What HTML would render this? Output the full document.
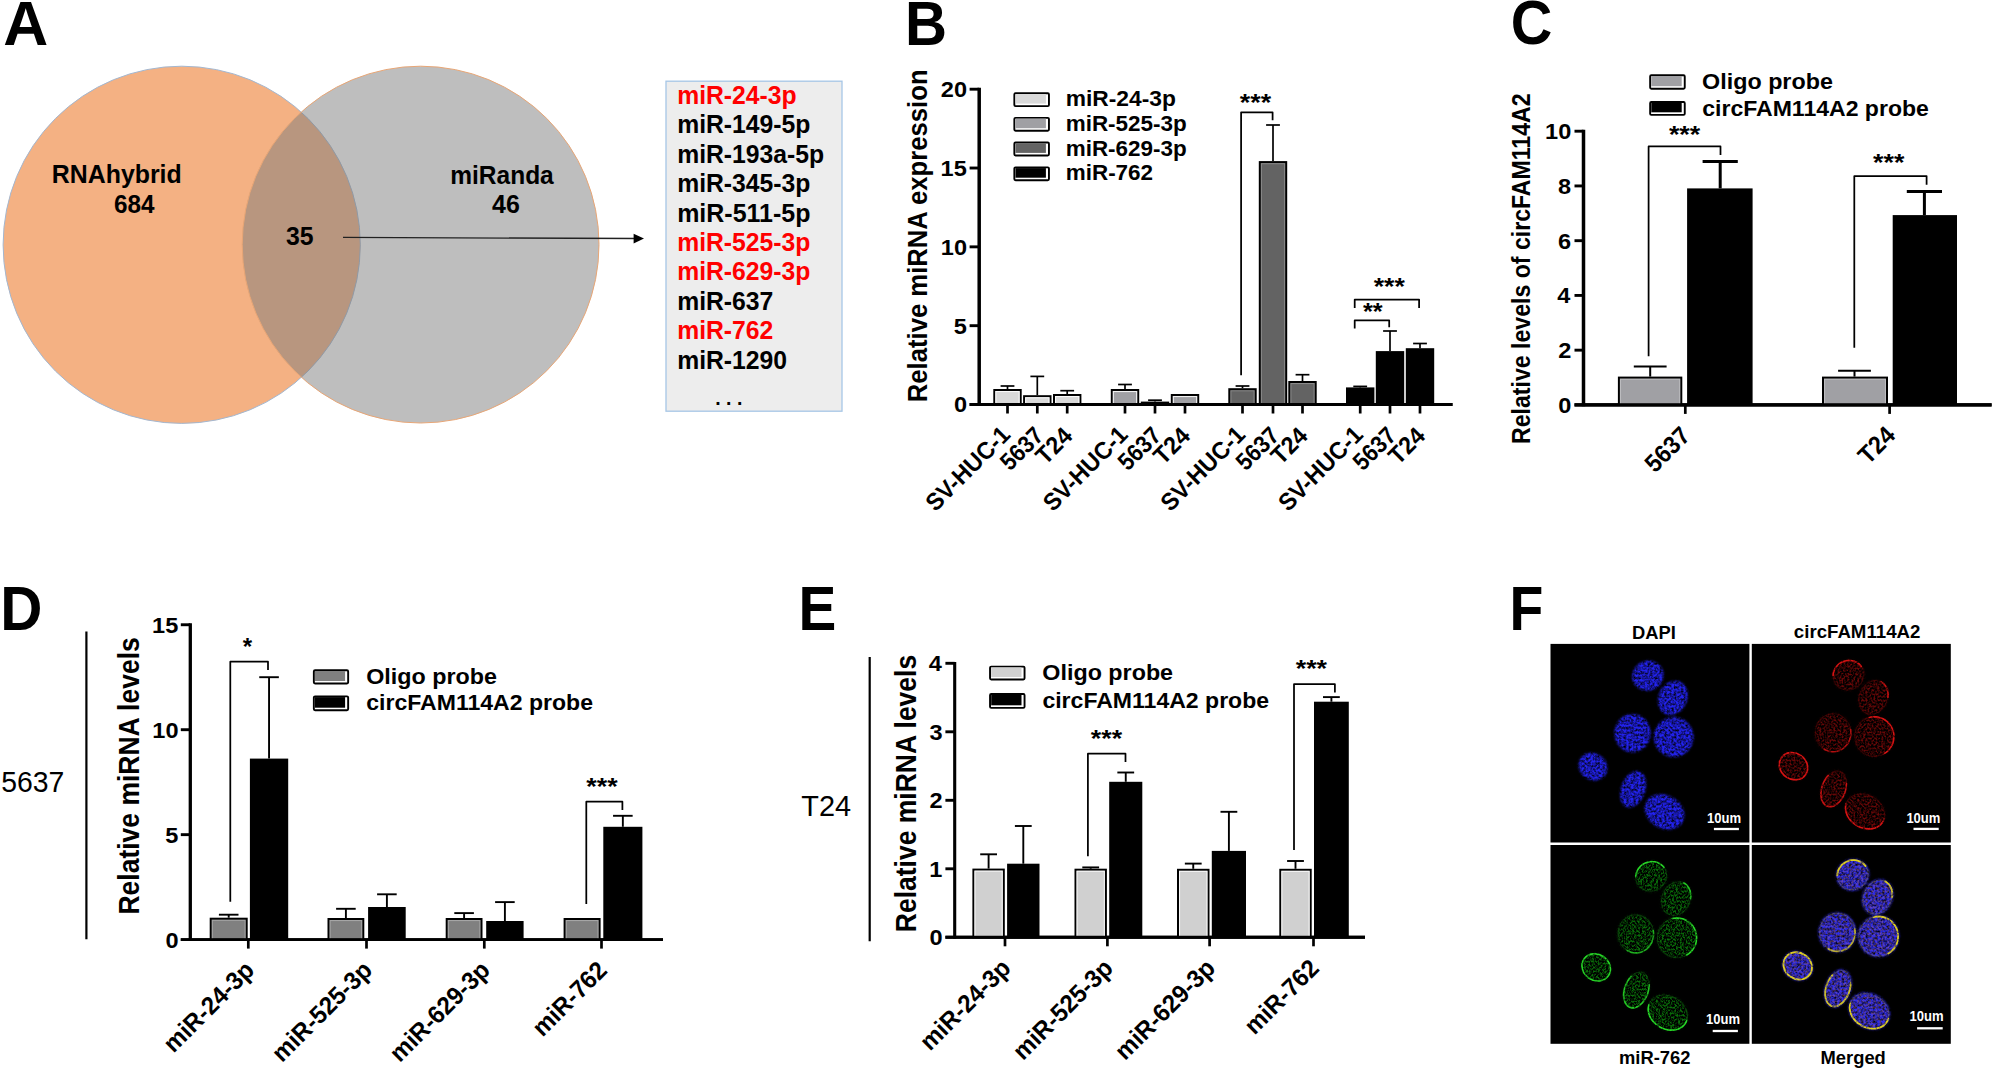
<!DOCTYPE html>
<html lang="en"><head><meta charset="utf-8"><title>Figure</title>
<style>html,body{margin:0;padding:0;background:#fff;}svg{display:block;}text{font-family:'Liberation Sans', Arial, sans-serif;}</style>
</head><body>
<svg width="1995" height="1070" viewBox="0 0 1995 1070">
<rect width="1995" height="1070" fill="#fff"/>
<text x="3.15" y="45.10" font-size="62.46" font-weight="bold" fill="#000" textLength="44.99" lengthAdjust="spacingAndGlyphs">A</text>
<text x="905.11" y="44.90" font-size="62.46" font-weight="bold" fill="#000" textLength="42.04" lengthAdjust="spacingAndGlyphs">B</text>
<text x="1510.64" y="44.00" font-size="62.46" font-weight="bold" fill="#000" textLength="41.53" lengthAdjust="spacingAndGlyphs">C</text>
<text x="0.20" y="629.50" font-size="62.46" font-weight="bold" fill="#000" textLength="42.16" lengthAdjust="spacingAndGlyphs">D</text>
<text x="798.51" y="629.70" font-size="62.46" font-weight="bold" fill="#000" textLength="37.81" lengthAdjust="spacingAndGlyphs">E</text>
<text x="1509.39" y="629.70" font-size="62.46" font-weight="bold" fill="#000" textLength="33.83" lengthAdjust="spacingAndGlyphs">F</text>
<g id="panelA">
<circle cx="181.7" cy="244.8" r="178.6" fill="#f4b183" stroke="#a3b7d0" stroke-width="1"/>
<circle cx="420.6" cy="244.6" r="178.4" fill="#7a7a7a" fill-opacity="0.49" stroke="#e8a676" stroke-width="1"/>
<text x="51.84" y="183.00" font-size="24.98" font-weight="bold" fill="#000" textLength="129.90" lengthAdjust="spacingAndGlyphs">RNAhybrid</text>
<text x="113.91" y="213.30" font-size="24.98" font-weight="bold" fill="#000" textLength="40.52" lengthAdjust="spacingAndGlyphs">684</text>
<text x="285.93" y="244.80" font-size="24.98" font-weight="bold" fill="#000" textLength="27.56" lengthAdjust="spacingAndGlyphs">35</text>
<text x="450.29" y="183.60" font-size="24.98" font-weight="bold" fill="#000" textLength="103.46" lengthAdjust="spacingAndGlyphs">miRanda</text>
<text x="492.12" y="212.50" font-size="24.98" font-weight="bold" fill="#000" textLength="27.78" lengthAdjust="spacingAndGlyphs">46</text>
<line x1="343.00" y1="237.40" x2="636.00" y2="238.50" stroke="#222" stroke-width="1.3" stroke-linecap="butt"/>
<polygon points="644,238.6 633.6,233.7 633.6,243.5" fill="#000"/>
<rect x="666" y="81.2" width="176" height="330" fill="#ededed" stroke="#a6c6e6" stroke-width="1.3"/>
<text x="677.17" y="104.00" font-size="24.98" font-weight="bold" fill="#ff0000" textLength="119.51" lengthAdjust="spacingAndGlyphs">miR-24-3p</text>
<text x="677.17" y="133.40" font-size="24.98" font-weight="bold" fill="#000" textLength="133.26" lengthAdjust="spacingAndGlyphs">miR-149-5p</text>
<text x="677.17" y="162.80" font-size="24.98" font-weight="bold" fill="#000" textLength="147.00" lengthAdjust="spacingAndGlyphs">miR-193a-5p</text>
<text x="677.17" y="192.20" font-size="24.98" font-weight="bold" fill="#000" textLength="133.26" lengthAdjust="spacingAndGlyphs">miR-345-3p</text>
<text x="677.17" y="221.60" font-size="24.98" font-weight="bold" fill="#000" textLength="133.26" lengthAdjust="spacingAndGlyphs">miR-511-5p</text>
<text x="677.17" y="251.00" font-size="24.98" font-weight="bold" fill="#ff0000" textLength="133.26" lengthAdjust="spacingAndGlyphs">miR-525-3p</text>
<text x="677.17" y="280.40" font-size="24.98" font-weight="bold" fill="#ff0000" textLength="133.26" lengthAdjust="spacingAndGlyphs">miR-629-3p</text>
<text x="677.17" y="309.80" font-size="24.98" font-weight="bold" fill="#000" textLength="96.18" lengthAdjust="spacingAndGlyphs">miR-637</text>
<text x="677.17" y="339.20" font-size="24.98" font-weight="bold" fill="#ff0000" textLength="96.18" lengthAdjust="spacingAndGlyphs">miR-762</text>
<text x="677.17" y="368.60" font-size="24.98" font-weight="bold" fill="#000" textLength="109.92" lengthAdjust="spacingAndGlyphs">miR-1290</text>
<text x="715.28" y="404.80" font-size="20.82" font-weight="bold" fill="#000" textLength="27.06" lengthAdjust="spacingAndGlyphs">. . .</text>
</g>
<g id="panelB">
<line x1="979.20" y1="87.80" x2="979.20" y2="405.90" stroke="#000" stroke-width="3.5" stroke-linecap="butt"/>
<line x1="969.60" y1="404.50" x2="1452.50" y2="404.50" stroke="#000" stroke-width="3.0" stroke-linecap="butt"/>
<line x1="969.60" y1="325.68" x2="979.20" y2="325.68" stroke="#000" stroke-width="2.9" stroke-linecap="butt"/>
<line x1="969.60" y1="246.85" x2="979.20" y2="246.85" stroke="#000" stroke-width="2.9" stroke-linecap="butt"/>
<line x1="969.60" y1="168.02" x2="979.20" y2="168.02" stroke="#000" stroke-width="2.9" stroke-linecap="butt"/>
<line x1="969.60" y1="89.20" x2="979.20" y2="89.20" stroke="#000" stroke-width="2.9" stroke-linecap="butt"/>
<text x="953.97" y="412.40" font-size="22.90" font-weight="bold" fill="#000" textLength="13.09" lengthAdjust="spacingAndGlyphs">0</text>
<text x="953.66" y="333.57" font-size="22.90" font-weight="bold" fill="#000" textLength="13.09" lengthAdjust="spacingAndGlyphs">5</text>
<text x="940.88" y="254.75" font-size="22.90" font-weight="bold" fill="#000" textLength="26.18" lengthAdjust="spacingAndGlyphs">10</text>
<text x="940.57" y="175.92" font-size="22.90" font-weight="bold" fill="#000" textLength="26.18" lengthAdjust="spacingAndGlyphs">15</text>
<text x="940.88" y="97.10" font-size="22.90" font-weight="bold" fill="#000" textLength="26.18" lengthAdjust="spacingAndGlyphs">20</text>
<text transform="translate(927.40,402.21) rotate(-90)" x="0" y="0" font-size="28.42" font-weight="bold" textLength="332.80" lengthAdjust="spacingAndGlyphs">Relative miRNA expression</text>
<line x1="1007.50" y1="389.00" x2="1007.50" y2="386.00" stroke="#000" stroke-width="1.7" stroke-linecap="butt"/>
<line x1="1000.60" y1="386.00" x2="1014.40" y2="386.00" stroke="#000" stroke-width="1.7" stroke-linecap="butt"/>
<rect x="994.30" y="390.00" width="26.40" height="14.50" fill="#d9d9d9" stroke="#000" stroke-width="2.0"/>
<rect x="995.85" y="391.55" width="23.30" height="12.95" fill="none" stroke="#fff" stroke-width="1.1" stroke-opacity="0.85"/>
<line x1="1007.50" y1="404.50" x2="1007.50" y2="413.50" stroke="#000" stroke-width="2.7" stroke-linecap="butt"/>
<line x1="1037.30" y1="395.20" x2="1037.30" y2="376.40" stroke="#000" stroke-width="1.7" stroke-linecap="butt"/>
<line x1="1030.40" y1="376.40" x2="1044.20" y2="376.40" stroke="#000" stroke-width="1.7" stroke-linecap="butt"/>
<rect x="1024.10" y="396.20" width="26.40" height="8.30" fill="#d9d9d9" stroke="#000" stroke-width="2.0"/>
<rect x="1025.65" y="397.75" width="23.30" height="6.75" fill="none" stroke="#fff" stroke-width="1.1" stroke-opacity="0.85"/>
<line x1="1037.30" y1="404.50" x2="1037.30" y2="413.50" stroke="#000" stroke-width="2.7" stroke-linecap="butt"/>
<line x1="1067.20" y1="394.00" x2="1067.20" y2="390.70" stroke="#000" stroke-width="1.7" stroke-linecap="butt"/>
<line x1="1060.30" y1="390.70" x2="1074.10" y2="390.70" stroke="#000" stroke-width="1.7" stroke-linecap="butt"/>
<rect x="1054.00" y="395.00" width="26.40" height="9.50" fill="#d9d9d9" stroke="#000" stroke-width="2.0"/>
<rect x="1055.55" y="396.55" width="23.30" height="7.95" fill="none" stroke="#fff" stroke-width="1.1" stroke-opacity="0.85"/>
<line x1="1067.20" y1="404.50" x2="1067.20" y2="413.50" stroke="#000" stroke-width="2.7" stroke-linecap="butt"/>
<line x1="1125.00" y1="389.00" x2="1125.00" y2="384.50" stroke="#000" stroke-width="1.7" stroke-linecap="butt"/>
<line x1="1118.10" y1="384.50" x2="1131.90" y2="384.50" stroke="#000" stroke-width="1.7" stroke-linecap="butt"/>
<rect x="1111.80" y="390.00" width="26.40" height="14.50" fill="#a0a0a4" stroke="#000" stroke-width="2.0"/>
<rect x="1113.35" y="391.55" width="23.30" height="12.95" fill="none" stroke="#fff" stroke-width="1.1" stroke-opacity="0.85"/>
<line x1="1125.00" y1="404.50" x2="1125.00" y2="413.50" stroke="#000" stroke-width="2.7" stroke-linecap="butt"/>
<line x1="1155.00" y1="401.60" x2="1155.00" y2="400.20" stroke="#000" stroke-width="1.7" stroke-linecap="butt"/>
<line x1="1148.10" y1="400.20" x2="1161.90" y2="400.20" stroke="#000" stroke-width="1.7" stroke-linecap="butt"/>
<rect x="1141.80" y="402.60" width="26.40" height="1.90" fill="#a0a0a4" stroke="#000" stroke-width="2.0"/>
<line x1="1155.00" y1="404.50" x2="1155.00" y2="413.50" stroke="#000" stroke-width="2.7" stroke-linecap="butt"/>
<rect x="1171.80" y="395.00" width="26.40" height="9.50" fill="#a0a0a4" stroke="#000" stroke-width="2.0"/>
<rect x="1173.35" y="396.55" width="23.30" height="7.95" fill="none" stroke="#fff" stroke-width="1.1" stroke-opacity="0.85"/>
<line x1="1185.00" y1="404.50" x2="1185.00" y2="413.50" stroke="#000" stroke-width="2.7" stroke-linecap="butt"/>
<line x1="1242.50" y1="388.20" x2="1242.50" y2="386.00" stroke="#000" stroke-width="1.7" stroke-linecap="butt"/>
<line x1="1235.60" y1="386.00" x2="1249.40" y2="386.00" stroke="#000" stroke-width="1.7" stroke-linecap="butt"/>
<rect x="1229.30" y="389.20" width="26.40" height="15.30" fill="#636363" stroke="#000" stroke-width="2.0"/>
<rect x="1230.85" y="390.75" width="23.30" height="13.75" fill="none" stroke="#fff" stroke-width="1.1" stroke-opacity="0.25"/>
<line x1="1242.50" y1="404.50" x2="1242.50" y2="413.50" stroke="#000" stroke-width="2.7" stroke-linecap="butt"/>
<line x1="1273.00" y1="161.10" x2="1273.00" y2="125.00" stroke="#000" stroke-width="1.7" stroke-linecap="butt"/>
<line x1="1266.10" y1="125.00" x2="1279.90" y2="125.00" stroke="#000" stroke-width="1.7" stroke-linecap="butt"/>
<rect x="1259.80" y="162.10" width="26.40" height="242.40" fill="#636363" stroke="#000" stroke-width="2.0"/>
<rect x="1261.35" y="163.65" width="23.30" height="240.85" fill="none" stroke="#fff" stroke-width="1.1" stroke-opacity="0.25"/>
<line x1="1273.00" y1="404.50" x2="1273.00" y2="413.50" stroke="#000" stroke-width="2.7" stroke-linecap="butt"/>
<line x1="1302.50" y1="381.00" x2="1302.50" y2="374.70" stroke="#000" stroke-width="1.7" stroke-linecap="butt"/>
<line x1="1295.60" y1="374.70" x2="1309.40" y2="374.70" stroke="#000" stroke-width="1.7" stroke-linecap="butt"/>
<rect x="1289.30" y="382.00" width="26.40" height="22.50" fill="#636363" stroke="#000" stroke-width="2.0"/>
<rect x="1290.85" y="383.55" width="23.30" height="20.95" fill="none" stroke="#fff" stroke-width="1.1" stroke-opacity="0.25"/>
<line x1="1302.50" y1="404.50" x2="1302.50" y2="413.50" stroke="#000" stroke-width="2.7" stroke-linecap="butt"/>
<line x1="1360.20" y1="387.40" x2="1360.20" y2="386.40" stroke="#000" stroke-width="1.7" stroke-linecap="butt"/>
<line x1="1353.30" y1="386.40" x2="1367.10" y2="386.40" stroke="#000" stroke-width="1.7" stroke-linecap="butt"/>
<rect x="1347.00" y="388.40" width="26.40" height="16.10" fill="#000" stroke="#000" stroke-width="2.0"/>
<line x1="1360.20" y1="404.50" x2="1360.20" y2="413.50" stroke="#000" stroke-width="2.7" stroke-linecap="butt"/>
<line x1="1390.00" y1="351.10" x2="1390.00" y2="331.00" stroke="#000" stroke-width="1.7" stroke-linecap="butt"/>
<line x1="1383.10" y1="331.00" x2="1396.90" y2="331.00" stroke="#000" stroke-width="1.7" stroke-linecap="butt"/>
<rect x="1376.80" y="352.10" width="26.40" height="52.40" fill="#000" stroke="#000" stroke-width="2.0"/>
<line x1="1390.00" y1="404.50" x2="1390.00" y2="413.50" stroke="#000" stroke-width="2.7" stroke-linecap="butt"/>
<line x1="1420.00" y1="348.20" x2="1420.00" y2="343.50" stroke="#000" stroke-width="1.7" stroke-linecap="butt"/>
<line x1="1413.10" y1="343.50" x2="1426.90" y2="343.50" stroke="#000" stroke-width="1.7" stroke-linecap="butt"/>
<rect x="1406.80" y="349.20" width="26.40" height="55.30" fill="#000" stroke="#000" stroke-width="2.0"/>
<line x1="1420.00" y1="404.50" x2="1420.00" y2="413.50" stroke="#000" stroke-width="2.7" stroke-linecap="butt"/>
<line x1="969.60" y1="404.50" x2="1452.50" y2="404.50" stroke="#000" stroke-width="3.0" stroke-linecap="butt"/>
<polyline points="1241.10,375.20 1241.10,112.30 1272.60,112.30 1272.60,120.30" fill="none" stroke="#000" stroke-width="1.75" stroke-linejoin="round"/>
<text x="1239.82" y="110.95" font-size="24.00" font-weight="bold" fill="#000" textLength="31.30" lengthAdjust="spacingAndGlyphs">***</text>
<polyline points="1354.70,328.50 1354.70,320.30 1389.20,320.30 1389.20,327.30" fill="none" stroke="#000" stroke-width="1.75" stroke-linejoin="round"/>
<text x="1362.93" y="319.95" font-size="24.00" font-weight="bold" fill="#000" textLength="19.70" lengthAdjust="spacingAndGlyphs">**</text>
<polyline points="1354.70,307.90 1354.70,299.60 1419.10,299.60 1419.10,307.90" fill="none" stroke="#000" stroke-width="1.75" stroke-linejoin="round"/>
<text x="1373.72" y="294.60" font-size="24.00" font-weight="bold" fill="#000" textLength="31.10" lengthAdjust="spacingAndGlyphs">***</text>
<rect x="1014.35" y="93.25" width="34.60" height="12.90" rx="1.2" fill="#fff" stroke="#000" stroke-width="1.9"/>
<rect x="1015.50" y="94.00" width="30.40" height="9.60" fill="#d9d9d9"/>
<text x="1065.70" y="106.30" font-size="21.34" font-weight="bold" fill="#000" textLength="110.14" lengthAdjust="spacingAndGlyphs">miR-24-3p</text>
<rect x="1014.35" y="117.85" width="34.60" height="12.90" rx="1.2" fill="#fff" stroke="#000" stroke-width="1.9"/>
<rect x="1015.50" y="118.60" width="30.40" height="9.60" fill="#a0a0a4"/>
<text x="1065.72" y="130.90" font-size="21.34" font-weight="bold" fill="#000" textLength="121.00" lengthAdjust="spacingAndGlyphs">miR-525-3p</text>
<rect x="1014.35" y="142.55" width="34.60" height="12.90" rx="1.2" fill="#fff" stroke="#000" stroke-width="1.9"/>
<rect x="1015.50" y="143.30" width="30.40" height="9.60" fill="#636363"/>
<text x="1065.72" y="155.60" font-size="21.34" font-weight="bold" fill="#000" textLength="121.00" lengthAdjust="spacingAndGlyphs">miR-629-3p</text>
<rect x="1014.35" y="167.35" width="34.60" height="12.90" rx="1.2" fill="#fff" stroke="#000" stroke-width="1.9"/>
<rect x="1015.50" y="168.10" width="30.40" height="9.60" fill="#000"/>
<text x="1065.72" y="180.40" font-size="21.34" font-weight="bold" fill="#000" textLength="87.38" lengthAdjust="spacingAndGlyphs">miR-762</text>
<text transform="translate(1011.70,436.20) scale(1.0,1) rotate(-45)" x="-107.84" y="0" font-size="24.26" font-weight="bold" fill="#000" textLength="107.84" lengthAdjust="spacingAndGlyphs">SV-HUC-1</text>
<text transform="translate(1044.90,437.00) scale(1.0,1) rotate(-45)" x="-49.24" y="0" font-size="24.26" font-weight="bold" fill="#000" textLength="49.24" lengthAdjust="spacingAndGlyphs">5637</text>
<text transform="translate(1073.80,437.30) scale(1.0,1) rotate(-45)" x="-40.15" y="0" font-size="24.26" font-weight="bold" fill="#000" textLength="40.15" lengthAdjust="spacingAndGlyphs">T24</text>
<text transform="translate(1129.20,436.20) scale(1.0,1) rotate(-45)" x="-107.84" y="0" font-size="24.26" font-weight="bold" fill="#000" textLength="107.84" lengthAdjust="spacingAndGlyphs">SV-HUC-1</text>
<text transform="translate(1162.60,437.00) scale(1.0,1) rotate(-45)" x="-49.24" y="0" font-size="24.26" font-weight="bold" fill="#000" textLength="49.24" lengthAdjust="spacingAndGlyphs">5637</text>
<text transform="translate(1191.60,437.30) scale(1.0,1) rotate(-45)" x="-40.15" y="0" font-size="24.26" font-weight="bold" fill="#000" textLength="40.15" lengthAdjust="spacingAndGlyphs">T24</text>
<text transform="translate(1246.70,436.20) scale(1.0,1) rotate(-45)" x="-107.84" y="0" font-size="24.26" font-weight="bold" fill="#000" textLength="107.84" lengthAdjust="spacingAndGlyphs">SV-HUC-1</text>
<text transform="translate(1280.60,437.00) scale(1.0,1) rotate(-45)" x="-49.24" y="0" font-size="24.26" font-weight="bold" fill="#000" textLength="49.24" lengthAdjust="spacingAndGlyphs">5637</text>
<text transform="translate(1309.10,437.30) scale(1.0,1) rotate(-45)" x="-40.15" y="0" font-size="24.26" font-weight="bold" fill="#000" textLength="40.15" lengthAdjust="spacingAndGlyphs">T24</text>
<text transform="translate(1364.40,436.20) scale(1.0,1) rotate(-45)" x="-107.84" y="0" font-size="24.26" font-weight="bold" fill="#000" textLength="107.84" lengthAdjust="spacingAndGlyphs">SV-HUC-1</text>
<text transform="translate(1397.60,437.00) scale(1.0,1) rotate(-45)" x="-49.24" y="0" font-size="24.26" font-weight="bold" fill="#000" textLength="49.24" lengthAdjust="spacingAndGlyphs">5637</text>
<text transform="translate(1426.60,437.30) scale(1.0,1) rotate(-45)" x="-40.15" y="0" font-size="24.26" font-weight="bold" fill="#000" textLength="40.15" lengthAdjust="spacingAndGlyphs">T24</text>
</g>
<g id="panelC">
<line x1="1583.50" y1="129.80" x2="1583.50" y2="406.30" stroke="#000" stroke-width="3.5" stroke-linecap="butt"/>
<line x1="1574.50" y1="404.90" x2="1991.60" y2="404.90" stroke="#000" stroke-width="3.3" stroke-linecap="butt"/>
<line x1="1574.50" y1="350.16" x2="1583.50" y2="350.16" stroke="#000" stroke-width="2.9" stroke-linecap="butt"/>
<line x1="1574.50" y1="295.42" x2="1583.50" y2="295.42" stroke="#000" stroke-width="2.9" stroke-linecap="butt"/>
<line x1="1574.50" y1="240.68" x2="1583.50" y2="240.68" stroke="#000" stroke-width="2.9" stroke-linecap="butt"/>
<line x1="1574.50" y1="185.94" x2="1583.50" y2="185.94" stroke="#000" stroke-width="2.9" stroke-linecap="butt"/>
<line x1="1574.50" y1="131.20" x2="1583.50" y2="131.20" stroke="#000" stroke-width="2.9" stroke-linecap="butt"/>
<text x="1558.17" y="412.80" font-size="22.90" font-weight="bold" fill="#000" textLength="13.09" lengthAdjust="spacingAndGlyphs">0</text>
<text x="1558.15" y="358.06" font-size="22.90" font-weight="bold" fill="#000" textLength="13.09" lengthAdjust="spacingAndGlyphs">2</text>
<text x="1557.33" y="303.32" font-size="22.90" font-weight="bold" fill="#000" textLength="13.09" lengthAdjust="spacingAndGlyphs">4</text>
<text x="1558.06" y="248.58" font-size="22.90" font-weight="bold" fill="#000" textLength="13.09" lengthAdjust="spacingAndGlyphs">6</text>
<text x="1557.93" y="193.84" font-size="22.90" font-weight="bold" fill="#000" textLength="13.09" lengthAdjust="spacingAndGlyphs">8</text>
<text x="1545.08" y="139.10" font-size="22.90" font-weight="bold" fill="#000" textLength="26.18" lengthAdjust="spacingAndGlyphs">10</text>
<text transform="translate(1530.30,443.93) rotate(-90)" x="0" y="0" font-size="26.65" font-weight="bold" textLength="350.45" lengthAdjust="spacingAndGlyphs">Relative levels of circFAM114A2</text>
<line x1="1650.20" y1="376.60" x2="1650.20" y2="366.40" stroke="#000" stroke-width="2.0" stroke-linecap="butt"/>
<line x1="1633.80" y1="366.40" x2="1666.60" y2="366.40" stroke="#000" stroke-width="2.0" stroke-linecap="butt"/>
<rect x="1618.90" y="377.60" width="62.40" height="27.30" fill="#a0a0a4" stroke="#000" stroke-width="2.0"/>
<rect x="1620.45" y="379.15" width="59.30" height="25.75" fill="none" stroke="#fff" stroke-width="1.1" stroke-opacity="0.3"/>
<line x1="1720.20" y1="188.40" x2="1720.20" y2="161.60" stroke="#000" stroke-width="3.0" stroke-linecap="butt"/>
<line x1="1702.60" y1="161.60" x2="1737.80" y2="161.60" stroke="#000" stroke-width="3.0" stroke-linecap="butt"/>
<rect x="1688.10" y="189.40" width="63.50" height="215.50" fill="#000" stroke="#000" stroke-width="2.0"/>
<line x1="1854.50" y1="376.60" x2="1854.50" y2="370.80" stroke="#000" stroke-width="2.0" stroke-linecap="butt"/>
<line x1="1838.10" y1="370.80" x2="1870.90" y2="370.80" stroke="#000" stroke-width="2.0" stroke-linecap="butt"/>
<rect x="1823.00" y="377.60" width="64.00" height="27.30" fill="#a0a0a4" stroke="#000" stroke-width="2.0"/>
<rect x="1824.55" y="379.15" width="60.90" height="25.75" fill="none" stroke="#fff" stroke-width="1.1" stroke-opacity="0.3"/>
<line x1="1924.40" y1="215.10" x2="1924.40" y2="191.60" stroke="#000" stroke-width="3.0" stroke-linecap="butt"/>
<line x1="1906.80" y1="191.60" x2="1942.00" y2="191.60" stroke="#000" stroke-width="3.0" stroke-linecap="butt"/>
<rect x="1893.70" y="216.10" width="62.30" height="188.80" fill="#000" stroke="#000" stroke-width="2.0"/>
<line x1="1574.50" y1="404.90" x2="1991.60" y2="404.90" stroke="#000" stroke-width="3.3" stroke-linecap="butt"/>
<line x1="1685.30" y1="404.90" x2="1685.30" y2="413.90" stroke="#000" stroke-width="2.7" stroke-linecap="butt"/>
<line x1="1889.60" y1="404.90" x2="1889.60" y2="413.90" stroke="#000" stroke-width="2.7" stroke-linecap="butt"/>
<polyline points="1648.60,356.20 1648.60,146.40 1720.50,146.40 1720.50,155.10" fill="none" stroke="#000" stroke-width="1.75" stroke-linejoin="round"/>
<text x="1668.92" y="142.75" font-size="24.00" font-weight="bold" fill="#000" textLength="31.41" lengthAdjust="spacingAndGlyphs">***</text>
<polyline points="1854.30,347.70 1854.30,176.10 1926.60,176.10 1926.60,184.80" fill="none" stroke="#000" stroke-width="1.75" stroke-linejoin="round"/>
<text x="1873.12" y="171.05" font-size="24.00" font-weight="bold" fill="#000" textLength="31.30" lengthAdjust="spacingAndGlyphs">***</text>
<rect x="1650.15" y="75.25" width="34.60" height="13.50" rx="1.2" fill="#fff" stroke="#000" stroke-width="1.9"/>
<rect x="1651.30" y="76.00" width="30.40" height="10.20" fill="#a0a0a4"/>
<rect x="1650.15" y="101.95" width="34.60" height="12.90" rx="1.2" fill="#fff" stroke="#000" stroke-width="1.9"/>
<rect x="1651.30" y="102.70" width="30.40" height="9.60" fill="#000"/>
<text x="1702.14" y="89.20" font-size="21.34" font-weight="bold" fill="#000" textLength="130.75" lengthAdjust="spacingAndGlyphs">Oligo probe</text>
<text x="1702.21" y="115.50" font-size="21.34" font-weight="bold" fill="#000" textLength="226.67" lengthAdjust="spacingAndGlyphs">circFAM114A2 probe</text>
<text transform="translate(1691.50,437.20) scale(1.0,1) rotate(-45)" x="-51.52" y="0" font-size="24.98" font-weight="bold" fill="#000" textLength="51.52" lengthAdjust="spacingAndGlyphs">5637</text>
<text transform="translate(1896.80,436.80) scale(1.0,1) rotate(-45)" x="-40.53" y="0" font-size="24.98" font-weight="bold" fill="#000" textLength="40.53" lengthAdjust="spacingAndGlyphs">T24</text>
</g>
<g id="panelD">
<text x="1.26" y="792.00" font-size="30.19" font-weight="normal" fill="#000" textLength="63.16" lengthAdjust="spacingAndGlyphs">5637</text>
<line x1="86.40" y1="631.40" x2="86.40" y2="939.30" stroke="#000" stroke-width="2.2" stroke-linecap="butt"/>
<line x1="190.30" y1="623.35" x2="190.30" y2="941.00" stroke="#000" stroke-width="3.3" stroke-linecap="butt"/>
<line x1="180.80" y1="939.60" x2="663.00" y2="939.60" stroke="#000" stroke-width="2.9" stroke-linecap="butt"/>
<line x1="180.80" y1="834.65" x2="190.30" y2="834.65" stroke="#000" stroke-width="2.9" stroke-linecap="butt"/>
<line x1="180.80" y1="729.70" x2="190.30" y2="729.70" stroke="#000" stroke-width="2.9" stroke-linecap="butt"/>
<line x1="180.80" y1="624.75" x2="190.30" y2="624.75" stroke="#000" stroke-width="2.9" stroke-linecap="butt"/>
<text x="165.47" y="947.50" font-size="22.90" font-weight="bold" fill="#000" textLength="13.09" lengthAdjust="spacingAndGlyphs">0</text>
<text x="165.16" y="842.55" font-size="22.90" font-weight="bold" fill="#000" textLength="13.09" lengthAdjust="spacingAndGlyphs">5</text>
<text x="152.38" y="737.60" font-size="22.90" font-weight="bold" fill="#000" textLength="26.18" lengthAdjust="spacingAndGlyphs">10</text>
<text x="152.07" y="632.65" font-size="22.90" font-weight="bold" fill="#000" textLength="26.18" lengthAdjust="spacingAndGlyphs">15</text>
<text transform="translate(139.40,914.57) rotate(-90)" x="0" y="0" font-size="29.15" font-weight="bold" textLength="277.35" lengthAdjust="spacingAndGlyphs">Relative miRNA levels</text>
<line x1="228.70" y1="917.70" x2="228.70" y2="914.70" stroke="#000" stroke-width="1.9" stroke-linecap="butt"/>
<line x1="218.90" y1="914.70" x2="238.50" y2="914.70" stroke="#000" stroke-width="1.9" stroke-linecap="butt"/>
<rect x="210.70" y="918.70" width="36.00" height="20.90" fill="#808080" stroke="#000" stroke-width="2.0"/>
<rect x="212.25" y="920.25" width="32.90" height="19.35" fill="none" stroke="#fff" stroke-width="1.1" stroke-opacity="0.3"/>
<line x1="269.05" y1="758.60" x2="269.05" y2="677.20" stroke="#000" stroke-width="1.9" stroke-linecap="butt"/>
<line x1="259.25" y1="677.20" x2="278.85" y2="677.20" stroke="#000" stroke-width="1.9" stroke-linecap="butt"/>
<rect x="250.90" y="759.60" width="36.30" height="180.00" fill="#000" stroke="#000" stroke-width="2.0"/>
<line x1="345.90" y1="918.00" x2="345.90" y2="908.80" stroke="#000" stroke-width="1.9" stroke-linecap="butt"/>
<line x1="336.10" y1="908.80" x2="355.70" y2="908.80" stroke="#000" stroke-width="1.9" stroke-linecap="butt"/>
<rect x="328.50" y="919.00" width="34.80" height="20.60" fill="#808080" stroke="#000" stroke-width="2.0"/>
<rect x="330.05" y="920.55" width="31.70" height="19.05" fill="none" stroke="#fff" stroke-width="1.1" stroke-opacity="0.3"/>
<line x1="386.90" y1="907.00" x2="386.90" y2="894.30" stroke="#000" stroke-width="1.9" stroke-linecap="butt"/>
<line x1="377.10" y1="894.30" x2="396.70" y2="894.30" stroke="#000" stroke-width="1.9" stroke-linecap="butt"/>
<rect x="369.10" y="908.00" width="35.60" height="31.60" fill="#000" stroke="#000" stroke-width="2.0"/>
<line x1="464.10" y1="918.00" x2="464.10" y2="913.10" stroke="#000" stroke-width="1.9" stroke-linecap="butt"/>
<line x1="454.30" y1="913.10" x2="473.90" y2="913.10" stroke="#000" stroke-width="1.9" stroke-linecap="butt"/>
<rect x="446.70" y="919.00" width="34.80" height="20.60" fill="#808080" stroke="#000" stroke-width="2.0"/>
<rect x="448.25" y="920.55" width="31.70" height="19.05" fill="none" stroke="#fff" stroke-width="1.1" stroke-opacity="0.3"/>
<line x1="504.90" y1="921.00" x2="504.90" y2="902.10" stroke="#000" stroke-width="1.9" stroke-linecap="butt"/>
<line x1="495.10" y1="902.10" x2="514.70" y2="902.10" stroke="#000" stroke-width="1.9" stroke-linecap="butt"/>
<rect x="487.20" y="922.00" width="35.40" height="17.60" fill="#000" stroke="#000" stroke-width="2.0"/>
<rect x="564.60" y="919.00" width="35.00" height="20.60" fill="#808080" stroke="#000" stroke-width="2.0"/>
<rect x="566.15" y="920.55" width="31.90" height="19.05" fill="none" stroke="#fff" stroke-width="1.1" stroke-opacity="0.3"/>
<line x1="622.85" y1="826.80" x2="622.85" y2="815.80" stroke="#000" stroke-width="1.9" stroke-linecap="butt"/>
<line x1="613.05" y1="815.80" x2="632.65" y2="815.80" stroke="#000" stroke-width="1.9" stroke-linecap="butt"/>
<rect x="604.30" y="827.80" width="37.10" height="111.80" fill="#000" stroke="#000" stroke-width="2.0"/>
<line x1="180.80" y1="939.60" x2="663.00" y2="939.60" stroke="#000" stroke-width="2.9" stroke-linecap="butt"/>
<line x1="248.30" y1="939.60" x2="248.30" y2="948.60" stroke="#000" stroke-width="2.7" stroke-linecap="butt"/>
<line x1="366.50" y1="939.60" x2="366.50" y2="948.60" stroke="#000" stroke-width="2.7" stroke-linecap="butt"/>
<line x1="484.30" y1="939.60" x2="484.30" y2="948.60" stroke="#000" stroke-width="2.7" stroke-linecap="butt"/>
<line x1="601.50" y1="939.60" x2="601.50" y2="948.60" stroke="#000" stroke-width="2.7" stroke-linecap="butt"/>
<polyline points="230.30,901.80 230.30,661.70 268.00,661.70 268.00,670.10" fill="none" stroke="#000" stroke-width="1.75" stroke-linejoin="round"/>
<text x="242.83" y="654.80" font-size="24.00" font-weight="bold" fill="#000" textLength="9.39" lengthAdjust="spacingAndGlyphs">*</text>
<polyline points="586.30,904.10 586.30,801.70 622.40,801.70 622.40,810.10" fill="none" stroke="#000" stroke-width="1.75" stroke-linejoin="round"/>
<text x="586.32" y="794.80" font-size="24.00" font-weight="bold" fill="#000" textLength="31.30" lengthAdjust="spacingAndGlyphs">***</text>
<rect x="313.85" y="670.25" width="34.30" height="13.30" rx="1.2" fill="#fff" stroke="#000" stroke-width="1.9"/>
<rect x="315.00" y="671.00" width="30.10" height="10.00" fill="#808080"/>
<rect x="313.85" y="696.35" width="34.30" height="13.90" rx="1.2" fill="#fff" stroke="#000" stroke-width="1.9"/>
<rect x="315.00" y="697.10" width="30.10" height="10.60" fill="#000"/>
<text x="366.24" y="684.00" font-size="21.34" font-weight="bold" fill="#000" textLength="130.75" lengthAdjust="spacingAndGlyphs">Oligo probe</text>
<text x="366.31" y="710.00" font-size="21.34" font-weight="bold" fill="#000" textLength="226.67" lengthAdjust="spacingAndGlyphs">circFAM114A2 probe</text>
<text transform="translate(255.60,971.70) scale(1.0,1) rotate(-45)" x="-116.03" y="0" font-size="24.98" font-weight="bold" fill="#000" textLength="116.03" lengthAdjust="spacingAndGlyphs">miR-24-3p</text>
<text transform="translate(373.50,971.70) scale(1.0,1) rotate(-45)" x="-129.38" y="0" font-size="24.98" font-weight="bold" fill="#000" textLength="129.38" lengthAdjust="spacingAndGlyphs">miR-525-3p</text>
<text transform="translate(491.30,971.70) scale(1.0,1) rotate(-45)" x="-129.38" y="0" font-size="24.98" font-weight="bold" fill="#000" textLength="129.38" lengthAdjust="spacingAndGlyphs">miR-629-3p</text>
<text transform="translate(608.50,971.70) scale(1.0,1) rotate(-45)" x="-93.38" y="0" font-size="24.98" font-weight="bold" fill="#000" textLength="93.38" lengthAdjust="spacingAndGlyphs">miR-762</text>
</g>
<g id="panelE">
<text x="801.35" y="815.60" font-size="30.19" font-weight="normal" fill="#000" textLength="49.80" lengthAdjust="spacingAndGlyphs">T24</text>
<line x1="869.70" y1="657.10" x2="869.70" y2="941.20" stroke="#000" stroke-width="2.2" stroke-linecap="butt"/>
<line x1="954.70" y1="661.90" x2="954.70" y2="938.70" stroke="#000" stroke-width="3.1" stroke-linecap="butt"/>
<line x1="945.40" y1="937.30" x2="1365.00" y2="937.30" stroke="#000" stroke-width="2.9" stroke-linecap="butt"/>
<line x1="945.40" y1="868.80" x2="954.70" y2="868.80" stroke="#000" stroke-width="2.9" stroke-linecap="butt"/>
<line x1="945.40" y1="800.30" x2="954.70" y2="800.30" stroke="#000" stroke-width="2.9" stroke-linecap="butt"/>
<line x1="945.40" y1="731.80" x2="954.70" y2="731.80" stroke="#000" stroke-width="2.9" stroke-linecap="butt"/>
<line x1="945.40" y1="663.30" x2="954.70" y2="663.30" stroke="#000" stroke-width="2.9" stroke-linecap="butt"/>
<text x="929.57" y="945.20" font-size="22.90" font-weight="bold" fill="#000" textLength="13.09" lengthAdjust="spacingAndGlyphs">0</text>
<text x="929.26" y="876.70" font-size="22.90" font-weight="bold" fill="#000" textLength="13.09" lengthAdjust="spacingAndGlyphs">1</text>
<text x="929.55" y="808.20" font-size="22.90" font-weight="bold" fill="#000" textLength="13.09" lengthAdjust="spacingAndGlyphs">2</text>
<text x="929.46" y="739.70" font-size="22.90" font-weight="bold" fill="#000" textLength="13.09" lengthAdjust="spacingAndGlyphs">3</text>
<text x="928.73" y="671.20" font-size="22.90" font-weight="bold" fill="#000" textLength="13.09" lengthAdjust="spacingAndGlyphs">4</text>
<text transform="translate(915.50,932.17) rotate(-90)" x="0" y="0" font-size="28.63" font-weight="bold" textLength="277.35" lengthAdjust="spacingAndGlyphs">Relative miRNA levels</text>
<line x1="988.60" y1="868.60" x2="988.60" y2="854.30" stroke="#000" stroke-width="1.9" stroke-linecap="butt"/>
<line x1="980.20" y1="854.30" x2="997.00" y2="854.30" stroke="#000" stroke-width="1.9" stroke-linecap="butt"/>
<rect x="973.40" y="869.60" width="30.40" height="67.70" fill="#d0d0d0" stroke="#000" stroke-width="2.0"/>
<rect x="974.95" y="871.15" width="27.30" height="66.15" fill="none" stroke="#fff" stroke-width="1.1" stroke-opacity="0.8"/>
<line x1="1023.30" y1="863.70" x2="1023.30" y2="826.00" stroke="#000" stroke-width="1.9" stroke-linecap="butt"/>
<line x1="1014.90" y1="826.00" x2="1031.70" y2="826.00" stroke="#000" stroke-width="1.9" stroke-linecap="butt"/>
<rect x="1008.10" y="864.70" width="30.40" height="72.60" fill="#000" stroke="#000" stroke-width="2.0"/>
<line x1="1090.70" y1="868.70" x2="1090.70" y2="867.40" stroke="#000" stroke-width="1.9" stroke-linecap="butt"/>
<line x1="1082.30" y1="867.40" x2="1099.10" y2="867.40" stroke="#000" stroke-width="1.9" stroke-linecap="butt"/>
<rect x="1075.50" y="869.70" width="30.40" height="67.60" fill="#d0d0d0" stroke="#000" stroke-width="2.0"/>
<rect x="1077.05" y="871.25" width="27.30" height="66.05" fill="none" stroke="#fff" stroke-width="1.1" stroke-opacity="0.8"/>
<line x1="1125.75" y1="781.80" x2="1125.75" y2="772.50" stroke="#000" stroke-width="1.9" stroke-linecap="butt"/>
<line x1="1117.35" y1="772.50" x2="1134.15" y2="772.50" stroke="#000" stroke-width="1.9" stroke-linecap="butt"/>
<rect x="1110.20" y="782.80" width="31.10" height="154.50" fill="#000" stroke="#000" stroke-width="2.0"/>
<line x1="1193.25" y1="868.80" x2="1193.25" y2="863.60" stroke="#000" stroke-width="1.9" stroke-linecap="butt"/>
<line x1="1184.85" y1="863.60" x2="1201.65" y2="863.60" stroke="#000" stroke-width="1.9" stroke-linecap="butt"/>
<rect x="1178.00" y="869.80" width="30.50" height="67.50" fill="#d0d0d0" stroke="#000" stroke-width="2.0"/>
<rect x="1179.55" y="871.35" width="27.40" height="65.95" fill="none" stroke="#fff" stroke-width="1.1" stroke-opacity="0.8"/>
<line x1="1228.90" y1="850.90" x2="1228.90" y2="811.80" stroke="#000" stroke-width="1.9" stroke-linecap="butt"/>
<line x1="1220.50" y1="811.80" x2="1237.30" y2="811.80" stroke="#000" stroke-width="1.9" stroke-linecap="butt"/>
<rect x="1212.80" y="851.90" width="32.20" height="85.40" fill="#000" stroke="#000" stroke-width="2.0"/>
<line x1="1295.50" y1="868.80" x2="1295.50" y2="861.00" stroke="#000" stroke-width="1.9" stroke-linecap="butt"/>
<line x1="1287.10" y1="861.00" x2="1303.90" y2="861.00" stroke="#000" stroke-width="1.9" stroke-linecap="butt"/>
<rect x="1280.30" y="869.80" width="30.40" height="67.50" fill="#d0d0d0" stroke="#000" stroke-width="2.0"/>
<rect x="1281.85" y="871.35" width="27.30" height="65.95" fill="none" stroke="#fff" stroke-width="1.1" stroke-opacity="0.8"/>
<line x1="1331.40" y1="701.70" x2="1331.40" y2="697.10" stroke="#000" stroke-width="1.9" stroke-linecap="butt"/>
<line x1="1323.00" y1="697.10" x2="1339.80" y2="697.10" stroke="#000" stroke-width="1.9" stroke-linecap="butt"/>
<rect x="1315.00" y="702.70" width="32.80" height="234.60" fill="#000" stroke="#000" stroke-width="2.0"/>
<line x1="945.40" y1="937.30" x2="1365.00" y2="937.30" stroke="#000" stroke-width="2.9" stroke-linecap="butt"/>
<line x1="1005.00" y1="937.30" x2="1005.00" y2="946.30" stroke="#000" stroke-width="2.7" stroke-linecap="butt"/>
<line x1="1107.40" y1="937.30" x2="1107.40" y2="946.30" stroke="#000" stroke-width="2.7" stroke-linecap="butt"/>
<line x1="1209.60" y1="937.30" x2="1209.60" y2="946.30" stroke="#000" stroke-width="2.7" stroke-linecap="butt"/>
<line x1="1313.50" y1="937.30" x2="1313.50" y2="946.30" stroke="#000" stroke-width="2.7" stroke-linecap="butt"/>
<polyline points="1087.90,856.30 1087.90,753.70 1125.50,753.70 1125.50,762.00" fill="none" stroke="#000" stroke-width="1.75" stroke-linejoin="round"/>
<text x="1090.82" y="746.90" font-size="24.00" font-weight="bold" fill="#000" textLength="31.30" lengthAdjust="spacingAndGlyphs">***</text>
<polyline points="1294.00,850.00 1294.00,684.20 1334.90,684.20 1334.90,692.60" fill="none" stroke="#000" stroke-width="1.75" stroke-linejoin="round"/>
<text x="1295.72" y="677.45" font-size="24.00" font-weight="bold" fill="#000" textLength="31.30" lengthAdjust="spacingAndGlyphs">***</text>
<rect x="990.05" y="666.65" width="34.50" height="12.90" rx="1.2" fill="#fff" stroke="#000" stroke-width="1.9"/>
<rect x="991.20" y="667.40" width="30.30" height="9.60" fill="#d0d0d0"/>
<rect x="990.05" y="693.95" width="34.50" height="13.90" rx="1.2" fill="#fff" stroke="#000" stroke-width="1.9"/>
<rect x="991.20" y="694.70" width="30.30" height="10.60" fill="#000"/>
<text x="1042.34" y="680.00" font-size="21.34" font-weight="bold" fill="#000" textLength="130.75" lengthAdjust="spacingAndGlyphs">Oligo probe</text>
<text x="1042.41" y="707.70" font-size="21.34" font-weight="bold" fill="#000" textLength="226.67" lengthAdjust="spacingAndGlyphs">circFAM114A2 probe</text>
<text transform="translate(1012.00,969.70) scale(1.0,1) rotate(-45)" x="-116.03" y="0" font-size="24.98" font-weight="bold" fill="#000" textLength="116.03" lengthAdjust="spacingAndGlyphs">miR-24-3p</text>
<text transform="translate(1114.40,969.70) scale(1.0,1) rotate(-45)" x="-129.38" y="0" font-size="24.98" font-weight="bold" fill="#000" textLength="129.38" lengthAdjust="spacingAndGlyphs">miR-525-3p</text>
<text transform="translate(1216.60,969.70) scale(1.0,1) rotate(-45)" x="-129.38" y="0" font-size="24.98" font-weight="bold" fill="#000" textLength="129.38" lengthAdjust="spacingAndGlyphs">miR-629-3p</text>
<text transform="translate(1320.50,969.70) scale(1.0,1) rotate(-45)" x="-93.38" y="0" font-size="24.98" font-weight="bold" fill="#000" textLength="93.38" lengthAdjust="spacingAndGlyphs">miR-762</text>
</g>
<g id="panelF">
<defs>
<filter id="fblue" filterUnits="userSpaceOnUse" x="0" y="0" width="200" height="199" color-interpolation-filters="sRGB">
 <feGaussianBlur in="SourceGraphic" stdDeviation="1.2" result="bl"/>
 <feTurbulence type="fractalNoise" baseFrequency="0.42" numOctaves="2" seed="11" result="nz"/>
 <feColorMatrix in="nz" type="matrix" values="0 0 0 0 1  0 0 0 0 1  0 0 0 0 1  1.9 0 0 0 -0.27" result="na"/>
 <feComposite in="bl" in2="na" operator="in"/>
</filter>
<filter id="fdim" filterUnits="userSpaceOnUse" x="0" y="0" width="200" height="199" color-interpolation-filters="sRGB">
 <feGaussianBlur in="SourceGraphic" stdDeviation="1.6" result="bl"/>
 <feTurbulence type="fractalNoise" baseFrequency="0.5" numOctaves="2" seed="5" result="nz"/>
 <feColorMatrix in="nz" type="matrix" values="0 0 0 0 1  0 0 0 0 1  0 0 0 0 1  3.2 0 0 0 -1.25" result="na"/>
 <feComposite in="bl" in2="na" operator="in"/>
</filter>
<filter id="farc" filterUnits="userSpaceOnUse" x="0" y="0" width="200" height="199" color-interpolation-filters="sRGB">
 <feGaussianBlur in="SourceGraphic" stdDeviation="0.7" result="bl"/>
 <feTurbulence type="fractalNoise" baseFrequency="0.35" numOctaves="2" seed="23" result="nz"/>
 <feColorMatrix in="nz" type="matrix" values="0 0 0 0 1  0 0 0 0 1  0 0 0 0 1  2.4 0 0 0 -0.25" result="na"/>
 <feComposite in="bl" in2="na" operator="in"/>
</filter>
</defs>
<rect x="1550.5" y="643.9" width="198.9" height="198.6" fill="#000"/>
<g transform="translate(1550.5,643.9)">
<g filter="url(#fblue)">
<ellipse cx="97.4" cy="31.8" rx="15.9" ry="14.9" transform="rotate(-25 97.4 31.8)" fill="#2222ee" opacity="1"/>
<ellipse cx="122.3" cy="54.0" rx="14.3" ry="17.7" transform="rotate(25 122.3 54.0)" fill="#2222ee" opacity="1"/>
<ellipse cx="82.0" cy="89.3" rx="18.1" ry="19.3" transform="rotate(0 82.0 89.3)" fill="#2222ee" opacity="1"/>
<ellipse cx="123.2" cy="93.2" rx="19.9" ry="20.1" transform="rotate(0 123.2 93.2)" fill="#2222ee" opacity="1"/>
<ellipse cx="42.4" cy="122.8" rx="15.1" ry="13.3" transform="rotate(35 42.4 122.8)" fill="#2222ee" opacity="1"/>
<ellipse cx="82.6" cy="145.4" rx="12.1" ry="18.9" transform="rotate(20 82.6 145.4)" fill="#2222ee" opacity="1"/>
<ellipse cx="114.0" cy="168.0" rx="20.9" ry="16.7" transform="rotate(30 114.0 168.0)" fill="#2222ee" opacity="1"/>
</g>
</g>
<rect x="1751.8" y="643.9" width="199.0" height="198.6" fill="#000"/>
<g transform="translate(1751.8,643.9)">
<g filter="url(#fdim)">
<ellipse cx="96.7" cy="31.3" rx="15.6" ry="14.6" transform="rotate(-25 96.7 31.3)" fill="#7a0808" opacity="0.85"/>
<ellipse cx="121.6" cy="53.5" rx="14.0" ry="17.4" transform="rotate(25 121.6 53.5)" fill="#7a0808" opacity="0.85"/>
<ellipse cx="81.3" cy="88.8" rx="17.8" ry="19.0" transform="rotate(0 81.3 88.8)" fill="#7a0808" opacity="0.85"/>
<ellipse cx="122.5" cy="92.7" rx="19.6" ry="19.8" transform="rotate(0 122.5 92.7)" fill="#7a0808" opacity="0.85"/>
<ellipse cx="41.7" cy="122.3" rx="14.8" ry="13.0" transform="rotate(35 41.7 122.3)" fill="#7a0808" opacity="0.85"/>
<ellipse cx="81.9" cy="144.9" rx="11.8" ry="18.6" transform="rotate(20 81.9 144.9)" fill="#7a0808" opacity="0.85"/>
<ellipse cx="113.3" cy="167.5" rx="20.6" ry="16.4" transform="rotate(30 113.3 167.5)" fill="#7a0808" opacity="0.85"/>
</g>
<g filter="url(#farc)">
<path d="M-14.1,-6.2 L-13.4,-7.5 L-12.4,-8.8 L-11.4,-10.0 L-10.2,-11.0 L-8.9,-12.0 L-7.5,-12.8 L-6.0,-13.5 L-4.5,-14.0 L-2.9,-14.3 L-1.2,-14.6 L0.4,-14.6 L2.0,-14.5 L3.7,-14.2 L5.2,-13.8 L6.7,-13.2 L8.2,-12.4 L9.5,-11.6 L10.8,-10.5 L11.9,-9.4 L12.9,-8.2 L13.8,-6.9 L14.5,-5.5 L15.0,-4.0 L15.4,-2.5" transform="translate(96.7,31.3) rotate(-25)" fill="none" stroke="#d81414" stroke-width="1.6" stroke-linecap="round" opacity="1.0"/>
<ellipse cx="96.7" cy="31.3" rx="15.6" ry="14.6" transform="rotate(-25 96.7 31.3)" fill="none" stroke="#d81414" stroke-width="1.1" opacity="0.22"/>
<path d="M-0.0,-17.4 L0.7,-17.4 L1.4,-17.3 L2.1,-17.2 L2.8,-17.0 L3.5,-16.8 L4.2,-16.6 L4.9,-16.3 L5.5,-16.0 L6.2,-15.6 L6.8,-15.2 L7.4,-14.7 L8.0,-14.3 L8.6,-13.7 L9.2,-13.2 L9.7,-12.6 L10.2,-11.9 L10.7,-11.3 L11.1,-10.6 L11.5,-9.9 L11.9,-9.1 L12.3,-8.4 L12.6,-7.6 L12.9,-6.8 L13.2,-6.0" transform="translate(121.6,53.5) rotate(25)" fill="none" stroke="#d81414" stroke-width="1.6" stroke-linecap="round" opacity="0.9"/>
<ellipse cx="121.6" cy="53.5" rx="14.0" ry="17.4" transform="rotate(25 121.6 53.5)" fill="none" stroke="#d81414" stroke-width="1.1" opacity="0.22"/>
<path d="M17.5,-3.3 L17.7,-1.5 L17.8,0.3 L17.7,2.1 L17.4,3.8 L17.0,5.6 L16.4,7.3 L15.7,8.9 L14.9,10.4 L13.9,11.9 L12.8,13.2 L11.5,14.5 L10.2,15.6 L8.8,16.5 L7.3,17.3 L5.7,18.0 L4.1,18.5 L2.5,18.8 L0.8,19.0 L-0.9,19.0 L-2.6,18.8 L-4.2,18.5 L-5.8,17.9 L-7.4,17.3 L-8.9,16.5" transform="translate(81.3,88.8) rotate(0)" fill="none" stroke="#d81414" stroke-width="1.6" stroke-linecap="round" opacity="0.75"/>
<ellipse cx="81.3" cy="88.8" rx="17.8" ry="19.0" transform="rotate(0 81.3 88.8)" fill="none" stroke="#d81414" stroke-width="1.1" opacity="0.22"/>
<path d="M-5.1,-19.1 L-2.8,-19.6 L-0.4,-19.8 L1.9,-19.7 L4.2,-19.3 L6.5,-18.7 L8.7,-17.8 L10.7,-16.6 L12.6,-15.2 L14.3,-13.5 L15.8,-11.7 L17.1,-9.7 L18.1,-7.6 L18.9,-5.3 L19.4,-3.0 L19.6,-0.6 L19.5,1.7 L19.2,4.1 L18.6,6.4 L17.7,8.6 L16.5,10.6 L15.2,12.6 L13.6,14.3 L11.8,15.8 L9.8,17.1" transform="translate(122.5,92.7) rotate(0)" fill="none" stroke="#d81414" stroke-width="1.6" stroke-linecap="round" opacity="1.0"/>
<ellipse cx="122.5" cy="92.7" rx="19.6" ry="19.8" transform="rotate(0 122.5 92.7)" fill="none" stroke="#d81414" stroke-width="1.1" opacity="0.22"/>
<ellipse cx="41.7" cy="122.3" rx="14.8" ry="13.0" transform="rotate(35 41.7 122.3)" fill="none" stroke="#d81414" stroke-width="1.6" opacity="1.0"/>
<ellipse cx="41.7" cy="122.3" rx="14.8" ry="13.0" transform="rotate(35 41.7 122.3)" fill="none" stroke="#d81414" stroke-width="1.1" opacity="0.22"/>
<path d="M10.2,-9.3 L11.1,-6.3 L11.6,-3.1 L11.8,0.2 L11.6,3.5 L11.0,6.7 L10.1,9.6 L8.8,12.3 L7.3,14.6 L5.6,16.4 L3.6,17.7 L1.6,18.4 L-0.5,18.6 L-2.6,18.1 L-4.6,17.1 L-6.4,15.6 L-8.1,13.5 L-9.5,11.1 L-10.6,8.2 L-11.3,5.1 L-11.7,1.9 L-11.8,-1.4 L-11.4,-4.7 L-10.7,-7.8 L-9.7,-10.7" transform="translate(81.9,144.9) rotate(20)" fill="none" stroke="#d81414" stroke-width="1.6" stroke-linecap="round" opacity="0.9"/>
<ellipse cx="81.9" cy="144.9" rx="11.8" ry="18.6" transform="rotate(20 81.9 144.9)" fill="none" stroke="#d81414" stroke-width="1.1" opacity="0.22"/>
<path d="M20.3,-2.8 L20.6,-0.7 L20.5,1.4 L20.1,3.5 L19.4,5.6 L18.3,7.6 L16.9,9.4 L15.2,11.1 L13.2,12.6 L11.1,13.8 L8.7,14.9 L6.2,15.6 L3.6,16.2 L0.9,16.4 L-1.8,16.3 L-4.5,16.0 L-7.0,15.4 L-9.5,14.5 L-11.8,13.4 L-13.9,12.1 L-15.8,10.5 L-17.4,8.8 L-18.7,6.9 L-19.6,4.9 L-20.3,2.8" transform="translate(113.3,167.5) rotate(30)" fill="none" stroke="#d81414" stroke-width="1.6" stroke-linecap="round" opacity="1.0"/>
<ellipse cx="113.3" cy="167.5" rx="20.6" ry="16.4" transform="rotate(30 113.3 167.5)" fill="none" stroke="#d81414" stroke-width="1.1" opacity="0.22"/>
</g>
</g>
<rect x="1550.5" y="845.0" width="198.9" height="198.8" fill="#000"/>
<g transform="translate(1550.5,845.0)">
<g filter="url(#fdim)">
<ellipse cx="100.7" cy="31.4" rx="15.6" ry="14.6" transform="rotate(-25 100.7 31.4)" fill="#0a800a" opacity="0.85"/>
<ellipse cx="125.6" cy="53.6" rx="14.0" ry="17.4" transform="rotate(25 125.6 53.6)" fill="#0a800a" opacity="0.85"/>
<ellipse cx="85.3" cy="88.9" rx="17.8" ry="19.0" transform="rotate(0 85.3 88.9)" fill="#0a800a" opacity="0.85"/>
<ellipse cx="126.5" cy="92.8" rx="19.6" ry="19.8" transform="rotate(0 126.5 92.8)" fill="#0a800a" opacity="0.85"/>
<ellipse cx="45.7" cy="122.4" rx="14.8" ry="13.0" transform="rotate(35 45.7 122.4)" fill="#0a800a" opacity="0.85"/>
<ellipse cx="85.9" cy="145.0" rx="11.8" ry="18.6" transform="rotate(20 85.9 145.0)" fill="#0a800a" opacity="0.85"/>
<ellipse cx="117.3" cy="167.6" rx="20.6" ry="16.4" transform="rotate(30 117.3 167.6)" fill="#0a800a" opacity="0.85"/>
</g>
<g filter="url(#farc)">
<path d="M-14.1,-6.2 L-13.4,-7.5 L-12.4,-8.8 L-11.4,-10.0 L-10.2,-11.0 L-8.9,-12.0 L-7.5,-12.8 L-6.0,-13.5 L-4.5,-14.0 L-2.9,-14.3 L-1.2,-14.6 L0.4,-14.6 L2.0,-14.5 L3.7,-14.2 L5.2,-13.8 L6.7,-13.2 L8.2,-12.4 L9.5,-11.6 L10.8,-10.5 L11.9,-9.4 L12.9,-8.2 L13.8,-6.9 L14.5,-5.5 L15.0,-4.0 L15.4,-2.5" transform="translate(100.7,31.4) rotate(-25)" fill="none" stroke="#28d828" stroke-width="1.6" stroke-linecap="round" opacity="1.0"/>
<ellipse cx="100.7" cy="31.4" rx="15.6" ry="14.6" transform="rotate(-25 100.7 31.4)" fill="none" stroke="#28d828" stroke-width="1.1" opacity="0.22"/>
<path d="M-0.0,-17.4 L0.7,-17.4 L1.4,-17.3 L2.1,-17.2 L2.8,-17.0 L3.5,-16.8 L4.2,-16.6 L4.9,-16.3 L5.5,-16.0 L6.2,-15.6 L6.8,-15.2 L7.4,-14.7 L8.0,-14.3 L8.6,-13.7 L9.2,-13.2 L9.7,-12.6 L10.2,-11.9 L10.7,-11.3 L11.1,-10.6 L11.5,-9.9 L11.9,-9.1 L12.3,-8.4 L12.6,-7.6 L12.9,-6.8 L13.2,-6.0" transform="translate(125.6,53.6) rotate(25)" fill="none" stroke="#28d828" stroke-width="1.6" stroke-linecap="round" opacity="0.9"/>
<ellipse cx="125.6" cy="53.6" rx="14.0" ry="17.4" transform="rotate(25 125.6 53.6)" fill="none" stroke="#28d828" stroke-width="1.1" opacity="0.22"/>
<path d="M17.5,-3.3 L17.7,-1.5 L17.8,0.3 L17.7,2.1 L17.4,3.8 L17.0,5.6 L16.4,7.3 L15.7,8.9 L14.9,10.4 L13.9,11.9 L12.8,13.2 L11.5,14.5 L10.2,15.6 L8.8,16.5 L7.3,17.3 L5.7,18.0 L4.1,18.5 L2.5,18.8 L0.8,19.0 L-0.9,19.0 L-2.6,18.8 L-4.2,18.5 L-5.8,17.9 L-7.4,17.3 L-8.9,16.5" transform="translate(85.3,88.9) rotate(0)" fill="none" stroke="#28d828" stroke-width="1.6" stroke-linecap="round" opacity="0.75"/>
<ellipse cx="85.3" cy="88.9" rx="17.8" ry="19.0" transform="rotate(0 85.3 88.9)" fill="none" stroke="#28d828" stroke-width="1.1" opacity="0.22"/>
<path d="M-5.1,-19.1 L-2.8,-19.6 L-0.4,-19.8 L1.9,-19.7 L4.2,-19.3 L6.5,-18.7 L8.7,-17.8 L10.7,-16.6 L12.6,-15.2 L14.3,-13.5 L15.8,-11.7 L17.1,-9.7 L18.1,-7.6 L18.9,-5.3 L19.4,-3.0 L19.6,-0.6 L19.5,1.7 L19.2,4.1 L18.6,6.4 L17.7,8.6 L16.5,10.6 L15.2,12.6 L13.6,14.3 L11.8,15.8 L9.8,17.1" transform="translate(126.5,92.8) rotate(0)" fill="none" stroke="#28d828" stroke-width="1.6" stroke-linecap="round" opacity="1.0"/>
<ellipse cx="126.5" cy="92.8" rx="19.6" ry="19.8" transform="rotate(0 126.5 92.8)" fill="none" stroke="#28d828" stroke-width="1.1" opacity="0.22"/>
<ellipse cx="45.7" cy="122.4" rx="14.8" ry="13.0" transform="rotate(35 45.7 122.4)" fill="none" stroke="#28d828" stroke-width="1.6" opacity="1.0"/>
<ellipse cx="45.7" cy="122.4" rx="14.8" ry="13.0" transform="rotate(35 45.7 122.4)" fill="none" stroke="#28d828" stroke-width="1.1" opacity="0.22"/>
<path d="M10.2,-9.3 L11.1,-6.3 L11.6,-3.1 L11.8,0.2 L11.6,3.5 L11.0,6.7 L10.1,9.6 L8.8,12.3 L7.3,14.6 L5.6,16.4 L3.6,17.7 L1.6,18.4 L-0.5,18.6 L-2.6,18.1 L-4.6,17.1 L-6.4,15.6 L-8.1,13.5 L-9.5,11.1 L-10.6,8.2 L-11.3,5.1 L-11.7,1.9 L-11.8,-1.4 L-11.4,-4.7 L-10.7,-7.8 L-9.7,-10.7" transform="translate(85.9,145.0) rotate(20)" fill="none" stroke="#28d828" stroke-width="1.6" stroke-linecap="round" opacity="0.9"/>
<ellipse cx="85.9" cy="145.0" rx="11.8" ry="18.6" transform="rotate(20 85.9 145.0)" fill="none" stroke="#28d828" stroke-width="1.1" opacity="0.22"/>
<path d="M20.3,-2.8 L20.6,-0.7 L20.5,1.4 L20.1,3.5 L19.4,5.6 L18.3,7.6 L16.9,9.4 L15.2,11.1 L13.2,12.6 L11.1,13.8 L8.7,14.9 L6.2,15.6 L3.6,16.2 L0.9,16.4 L-1.8,16.3 L-4.5,16.0 L-7.0,15.4 L-9.5,14.5 L-11.8,13.4 L-13.9,12.1 L-15.8,10.5 L-17.4,8.8 L-18.7,6.9 L-19.6,4.9 L-20.3,2.8" transform="translate(117.3,167.6) rotate(30)" fill="none" stroke="#28d828" stroke-width="1.6" stroke-linecap="round" opacity="1.0"/>
<ellipse cx="117.3" cy="167.6" rx="20.6" ry="16.4" transform="rotate(30 117.3 167.6)" fill="none" stroke="#28d828" stroke-width="1.1" opacity="0.22"/>
</g>
</g>
<rect x="1751.8" y="845.0" width="199.0" height="198.8" fill="#000"/>
<g transform="translate(1751.8,845.0)">
<g filter="url(#fblue)">
<ellipse cx="100.9" cy="29.9" rx="16.8" ry="15.8" transform="rotate(-25 100.9 29.9)" fill="#2a2af0" opacity="1"/>
<ellipse cx="125.8" cy="52.1" rx="15.2" ry="18.6" transform="rotate(25 125.8 52.1)" fill="#2a2af0" opacity="1"/>
<ellipse cx="85.5" cy="87.4" rx="19.0" ry="20.2" transform="rotate(0 85.5 87.4)" fill="#2a2af0" opacity="1"/>
<ellipse cx="126.7" cy="91.3" rx="20.8" ry="21.0" transform="rotate(0 126.7 91.3)" fill="#2a2af0" opacity="1"/>
<ellipse cx="45.9" cy="120.9" rx="16.0" ry="14.2" transform="rotate(35 45.9 120.9)" fill="#2a2af0" opacity="1"/>
<ellipse cx="86.1" cy="143.5" rx="13.0" ry="19.8" transform="rotate(20 86.1 143.5)" fill="#2a2af0" opacity="1"/>
<ellipse cx="117.5" cy="166.1" rx="21.8" ry="17.6" transform="rotate(30 117.5 166.1)" fill="#2a2af0" opacity="1"/>
</g>
<g filter="url(#fdim)">
<ellipse cx="100.9" cy="29.9" rx="15.6" ry="14.6" transform="rotate(-25 100.9 29.9)" fill="#e08038" opacity="0.3"/>
<ellipse cx="125.8" cy="52.1" rx="14.0" ry="17.4" transform="rotate(25 125.8 52.1)" fill="#e08038" opacity="0.3"/>
<ellipse cx="85.5" cy="87.4" rx="17.8" ry="19.0" transform="rotate(0 85.5 87.4)" fill="#e08038" opacity="0.3"/>
<ellipse cx="126.7" cy="91.3" rx="19.6" ry="19.8" transform="rotate(0 126.7 91.3)" fill="#e08038" opacity="0.3"/>
<ellipse cx="45.9" cy="120.9" rx="14.8" ry="13.0" transform="rotate(35 45.9 120.9)" fill="#e08038" opacity="0.3"/>
<ellipse cx="86.1" cy="143.5" rx="11.8" ry="18.6" transform="rotate(20 86.1 143.5)" fill="#e08038" opacity="0.3"/>
<ellipse cx="117.5" cy="166.1" rx="20.6" ry="16.4" transform="rotate(30 117.5 166.1)" fill="#e08038" opacity="0.3"/>
</g>
<g filter="url(#farc)">
<path d="M-14.1,-6.2 L-13.4,-7.5 L-12.4,-8.8 L-11.4,-10.0 L-10.2,-11.0 L-8.9,-12.0 L-7.5,-12.8 L-6.0,-13.5 L-4.5,-14.0 L-2.9,-14.3 L-1.2,-14.6 L0.4,-14.6 L2.0,-14.5 L3.7,-14.2 L5.2,-13.8 L6.7,-13.2 L8.2,-12.4 L9.5,-11.6 L10.8,-10.5 L11.9,-9.4 L12.9,-8.2 L13.8,-6.9 L14.5,-5.5 L15.0,-4.0 L15.4,-2.5" transform="translate(100.9,29.9) rotate(-25)" fill="none" stroke="#e0d020" stroke-width="1.8" stroke-linecap="round" opacity="1.0"/>
<ellipse cx="100.9" cy="29.9" rx="15.6" ry="14.6" transform="rotate(-25 100.9 29.9)" fill="none" stroke="#e0d020" stroke-width="1.1" opacity="0.22"/>
<path d="M-0.0,-17.4 L0.7,-17.4 L1.4,-17.3 L2.1,-17.2 L2.8,-17.0 L3.5,-16.8 L4.2,-16.6 L4.9,-16.3 L5.5,-16.0 L6.2,-15.6 L6.8,-15.2 L7.4,-14.7 L8.0,-14.3 L8.6,-13.7 L9.2,-13.2 L9.7,-12.6 L10.2,-11.9 L10.7,-11.3 L11.1,-10.6 L11.5,-9.9 L11.9,-9.1 L12.3,-8.4 L12.6,-7.6 L12.9,-6.8 L13.2,-6.0" transform="translate(125.8,52.1) rotate(25)" fill="none" stroke="#e0d020" stroke-width="1.8" stroke-linecap="round" opacity="0.9"/>
<ellipse cx="125.8" cy="52.1" rx="14.0" ry="17.4" transform="rotate(25 125.8 52.1)" fill="none" stroke="#e0d020" stroke-width="1.1" opacity="0.22"/>
<path d="M17.5,-3.3 L17.7,-1.5 L17.8,0.3 L17.7,2.1 L17.4,3.8 L17.0,5.6 L16.4,7.3 L15.7,8.9 L14.9,10.4 L13.9,11.9 L12.8,13.2 L11.5,14.5 L10.2,15.6 L8.8,16.5 L7.3,17.3 L5.7,18.0 L4.1,18.5 L2.5,18.8 L0.8,19.0 L-0.9,19.0 L-2.6,18.8 L-4.2,18.5 L-5.8,17.9 L-7.4,17.3 L-8.9,16.5" transform="translate(85.5,87.4) rotate(0)" fill="none" stroke="#e0d020" stroke-width="1.8" stroke-linecap="round" opacity="0.75"/>
<ellipse cx="85.5" cy="87.4" rx="17.8" ry="19.0" transform="rotate(0 85.5 87.4)" fill="none" stroke="#e0d020" stroke-width="1.1" opacity="0.22"/>
<path d="M-5.1,-19.1 L-2.8,-19.6 L-0.4,-19.8 L1.9,-19.7 L4.2,-19.3 L6.5,-18.7 L8.7,-17.8 L10.7,-16.6 L12.6,-15.2 L14.3,-13.5 L15.8,-11.7 L17.1,-9.7 L18.1,-7.6 L18.9,-5.3 L19.4,-3.0 L19.6,-0.6 L19.5,1.7 L19.2,4.1 L18.6,6.4 L17.7,8.6 L16.5,10.6 L15.2,12.6 L13.6,14.3 L11.8,15.8 L9.8,17.1" transform="translate(126.7,91.3) rotate(0)" fill="none" stroke="#e0d020" stroke-width="1.8" stroke-linecap="round" opacity="1.0"/>
<ellipse cx="126.7" cy="91.3" rx="19.6" ry="19.8" transform="rotate(0 126.7 91.3)" fill="none" stroke="#e0d020" stroke-width="1.1" opacity="0.22"/>
<ellipse cx="45.9" cy="120.9" rx="14.8" ry="13.0" transform="rotate(35 45.9 120.9)" fill="none" stroke="#e0d020" stroke-width="1.8" opacity="1.0"/>
<ellipse cx="45.9" cy="120.9" rx="14.8" ry="13.0" transform="rotate(35 45.9 120.9)" fill="none" stroke="#e0d020" stroke-width="1.1" opacity="0.22"/>
<path d="M10.2,-9.3 L11.1,-6.3 L11.6,-3.1 L11.8,0.2 L11.6,3.5 L11.0,6.7 L10.1,9.6 L8.8,12.3 L7.3,14.6 L5.6,16.4 L3.6,17.7 L1.6,18.4 L-0.5,18.6 L-2.6,18.1 L-4.6,17.1 L-6.4,15.6 L-8.1,13.5 L-9.5,11.1 L-10.6,8.2 L-11.3,5.1 L-11.7,1.9 L-11.8,-1.4 L-11.4,-4.7 L-10.7,-7.8 L-9.7,-10.7" transform="translate(86.1,143.5) rotate(20)" fill="none" stroke="#e0d020" stroke-width="1.8" stroke-linecap="round" opacity="0.9"/>
<ellipse cx="86.1" cy="143.5" rx="11.8" ry="18.6" transform="rotate(20 86.1 143.5)" fill="none" stroke="#e0d020" stroke-width="1.1" opacity="0.22"/>
<path d="M20.3,-2.8 L20.6,-0.7 L20.5,1.4 L20.1,3.5 L19.4,5.6 L18.3,7.6 L16.9,9.4 L15.2,11.1 L13.2,12.6 L11.1,13.8 L8.7,14.9 L6.2,15.6 L3.6,16.2 L0.9,16.4 L-1.8,16.3 L-4.5,16.0 L-7.0,15.4 L-9.5,14.5 L-11.8,13.4 L-13.9,12.1 L-15.8,10.5 L-17.4,8.8 L-18.7,6.9 L-19.6,4.9 L-20.3,2.8" transform="translate(117.5,166.1) rotate(30)" fill="none" stroke="#e0d020" stroke-width="1.8" stroke-linecap="round" opacity="1.0"/>
<ellipse cx="117.5" cy="166.1" rx="20.6" ry="16.4" transform="rotate(30 117.5 166.1)" fill="none" stroke="#e0d020" stroke-width="1.1" opacity="0.22"/>
</g>
</g>
<text x="1707.08" y="823.00" font-size="14.05" font-weight="bold" fill="#fff" textLength="34.13" lengthAdjust="spacingAndGlyphs">10um</text>
<line x1="1713.90" y1="829.00" x2="1738.90" y2="829.00" stroke="#fff" stroke-width="2.3" stroke-linecap="butt"/>
<text x="1906.38" y="823.00" font-size="14.05" font-weight="bold" fill="#fff" textLength="34.03" lengthAdjust="spacingAndGlyphs">10um</text>
<line x1="1913.50" y1="828.90" x2="1938.70" y2="828.90" stroke="#fff" stroke-width="2.3" stroke-linecap="butt"/>
<text x="1706.08" y="1023.50" font-size="14.05" font-weight="bold" fill="#fff" textLength="34.03" lengthAdjust="spacingAndGlyphs">10um</text>
<line x1="1712.70" y1="1031.00" x2="1737.90" y2="1031.00" stroke="#fff" stroke-width="2.3" stroke-linecap="butt"/>
<text x="1909.38" y="1021.40" font-size="14.05" font-weight="bold" fill="#fff" textLength="34.13" lengthAdjust="spacingAndGlyphs">10um</text>
<line x1="1917.10" y1="1028.30" x2="1942.70" y2="1028.30" stroke="#fff" stroke-width="2.3" stroke-linecap="butt"/>
<text x="1632.07" y="638.50" font-size="18.74" font-weight="bold" fill="#000" textLength="43.86" lengthAdjust="spacingAndGlyphs">DAPI</text>
<text x="1793.84" y="637.60" font-size="18.74" font-weight="bold" fill="#000" textLength="126.54" lengthAdjust="spacingAndGlyphs">circFAM114A2</text>
<text x="1619.05" y="1064.40" font-size="18.74" font-weight="bold" fill="#000" textLength="71.43" lengthAdjust="spacingAndGlyphs">miR-762</text>
<text x="1820.55" y="1064.40" font-size="18.74" font-weight="bold" fill="#000" textLength="65.29" lengthAdjust="spacingAndGlyphs">Merged</text>
</g>
</svg>
</body></html>
